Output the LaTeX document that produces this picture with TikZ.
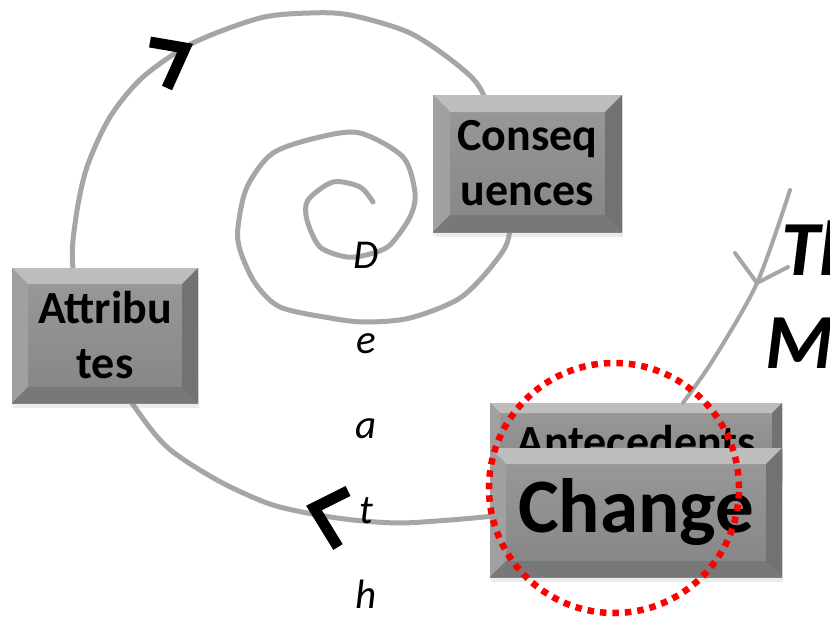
\documentclass[tikz,border=0pt]{standalone}
\usepackage{fontspec}
\setmainfont{Carlito}
\usetikzlibrary{shadows,backgrounds}

\definecolor{spiralgray}{HTML}{A6A6A6}
\definecolor{facetop}{HTML}{9A9A9A}
\definecolor{facebot}{HTML}{858585}
\definecolor{bevlight}{HTML}{BDBDBD}
\definecolor{bevleft}{HTML}{A0A0A0}
\definecolor{bevright}{HTML}{727272}
\definecolor{bevbottom}{HTML}{787878}

\newcommand\bevelfaces[1]{%
  \path (path picture bounding box.north west) coordinate (bnw)
        (path picture bounding box.north east) coordinate (bne)
        (path picture bounding box.south east) coordinate (bse)
        (path picture bounding box.south west) coordinate (bsw);
  \fill[bevlight] (bnw) -- (bne) -- ([shift={(-#1pt,-#1pt)}]bne) -- ([shift={(#1pt,-#1pt)}]bnw) -- cycle;
  \fill[bevleft] (bnw) -- ([shift={(#1pt,-#1pt)}]bnw) -- ([shift={(#1pt,#1pt)}]bsw) -- (bsw) -- cycle;
  \fill[bevright] (bne) -- ([shift={(-#1pt,-#1pt)}]bne) -- ([shift={(-#1pt,#1pt)}]bse) -- (bse) -- cycle;
  \fill[bevbottom] (bsw) -- ([shift={(#1pt,#1pt)}]bsw) -- ([shift={(-#1pt,#1pt)}]bse) -- (bse) -- cycle;
}

\tikzset{
  bevelbox/.style={rectangle, inner sep=0pt, top color=facetop, bottom color=facebot,
    font=\fontsize{46}{55}\selectfont\bfseries, align=center,
    drop shadow={opacity=0.15, shadow xshift=1pt, shadow yshift=-5pt},
    path picture={\bevelfaces{#1}}},
  bevelbox/.default=16
}

\begin{document}
\begin{tikzpicture}[x=1pt,y=-1pt]

\tikzstyle{spiral}=[draw=spiralgray, line width=5pt, line cap=round]
\tikzstyle{feed}=[draw=spiralgray, line width=4pt, line cap=round]
\tikzstyle{chev}=[draw=black, line width=11pt, miter limit=4]
\tikzstyle{deathltr}=[anchor=base, inner sep=0pt, font=\fontsize{41}{41}\selectfont\itshape]
\tikzstyle{titletxt}=[anchor=base west, inner sep=0pt, font=\fontsize{78}{90}\selectfont\bfseries\itshape]
\tikzstyle{redring}=[circle, draw=red, line width=6.5pt, dash pattern=on 6.5pt off 6pt,
  minimum size=250pt, inner sep=0pt]

\useasboundingbox (0,0) rectangle (830,618);

  \node[bevelbox, minimum width=186pt, minimum height=135pt] (attr) at (105,335.5) {Attribu\\tes};
  \node[bevelbox=17, minimum width=189pt, minimum height=137pt] (cons) at (527.5,163.5) {Conseq\\uences};
  \node[bevelbox=10, minimum width=292pt, minimum height=77pt] (ante) at (636,441.5) {Antecedents};
  \node[bevelbox, minimum width=292pt, minimum height=129pt,
        font=\fontsize{77}{90}\selectfont\bfseries] (change) at (636,512.5) {Change};

  \coordinate (core) at (373,202);
  \coordinate (tail) at (790,190);
  \coordinate (barb) at (757,283);

  \begin{scope}[on background layer]
  \draw[spiral] plot[smooth] coordinates {([yshift=-4pt]change.west) (450,520) (400,523)
    (353,520) (307,513) (267,503) (217,480) (167,447) ([xshift=27pt]attr.south) (92,340)
    ([xshift=-32pt]attr.north) (76,217) (87,167) (110,117) (143,77) (193,43) (260,18)
    (310,13) (350,15) (410,33) (460,67) ([xshift=-44pt]cons.north) (504,165)
    ([xshift=-18pt]cons.south) (495,262) (460,298) (410,318) (365,322) (330,318)
    (280,307) (255,283) (240,250) (238,227) (247,187) (273,153) (320,137) (360,133)
    (403,157) (415,193) (410,217) (390,245) (370,254) (347,257) (320,247) (307,220)
    (308,200) (333,182) (360,187) (core)};
  \end{scope}

  \draw[feed] plot[smooth] coordinates {(tail) (barb) (713,360) ([xshift=47pt]ante.north)};
  \draw[feed] ([shift={(-22,-30)}]barb) -- (barb) -- ([shift={(31,-16)}]barb);

  \draw[chev] (150,42) -- (185,48) -- (167,88);
  \draw[chev] (348,491) -- (314,508) -- (338,547);

  \foreach \ch [count=\i] in {D,e,a,t,h}
    \node[deathltr] (death\i) at (366,183+85*\i) {\ch};

  \node[titletxt] (th) at (781,275) {Th};
  \node[titletxt] (mm) at (765,368) {M};

  \node[redring] (ring) at (614,488) {};

\end{tikzpicture}
\end{document}
